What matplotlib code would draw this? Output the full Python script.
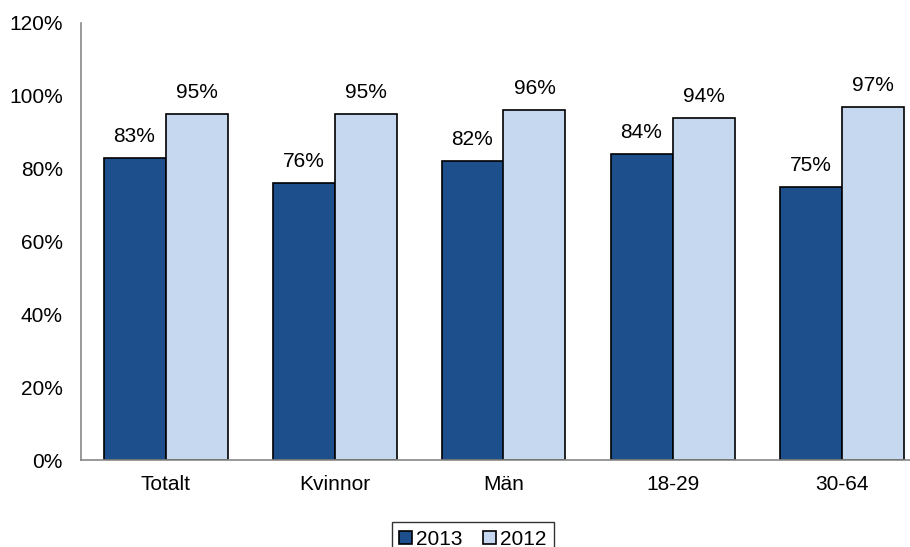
import numpy as np
import matplotlib.pyplot as plt

plt.rcParams['font.family'] = ['Liberation Sans', 'DejaVu Sans']

categories = ['Totalt', 'Kvinnor', 'Män', '18-29', '30-64']
v2013 = [83, 76, 82, 84, 75]
v2012 = [95, 95, 96, 94, 97]

fig = plt.figure(figsize=(9.1, 5.47), dpi=100)
W, H = 910, 547
ax = fig.add_axes([81 / W, 1 - 460 / H, 845 / W, (460 - 23) / H])

x = np.arange(len(categories))
w = 62 / 169
b1 = ax.bar(x - w / 2, v2013, w, color='#1C4F8C', edgecolor='black', linewidth=1.2, label='2013')
b2 = ax.bar(x + w / 2, v2012, w, color='#C6D8EF', edgecolor='black', linewidth=1.2, label='2012')

for bars, vals in [(b1, v2013), (b2, v2012)]:
    for r, v in zip(bars, vals):
        ax.text(r.get_x() + r.get_width() / 2, v + 4.4, f'{v}%', ha='center', va='baseline', fontsize=15)

ax.set_xlim(-0.5, len(categories) - 0.5)
ax.set_ylim(0, 120)
ax.set_yticks(range(0, 121, 20))
ax.set_yticklabels([f'{t}%' for t in range(0, 121, 20)], fontsize=15)
ax.set_xticks(x)
ax.set_xticklabels(categories, fontsize=15)
ax.tick_params(axis='y', length=0, pad=13)
ax.tick_params(axis='x', length=0, pad=11)
for s in ['top', 'right']:
    ax.spines[s].set_visible(False)
for s in ['left', 'bottom']:
    ax.spines[s].set_color('#888888')
    ax.spines[s].set_linewidth(1.2)

fig.legend(loc='upper center', bbox_to_anchor=(473 / W, 1 - 512 / H), ncol=2, fontsize=15,
           frameon=True, fancybox=False, edgecolor='black', handlelength=0.6, handleheight=0.6,
           handletextpad=0.2, columnspacing=1.0, borderpad=0.35)

fig.savefig('out.png', dpi=100)
